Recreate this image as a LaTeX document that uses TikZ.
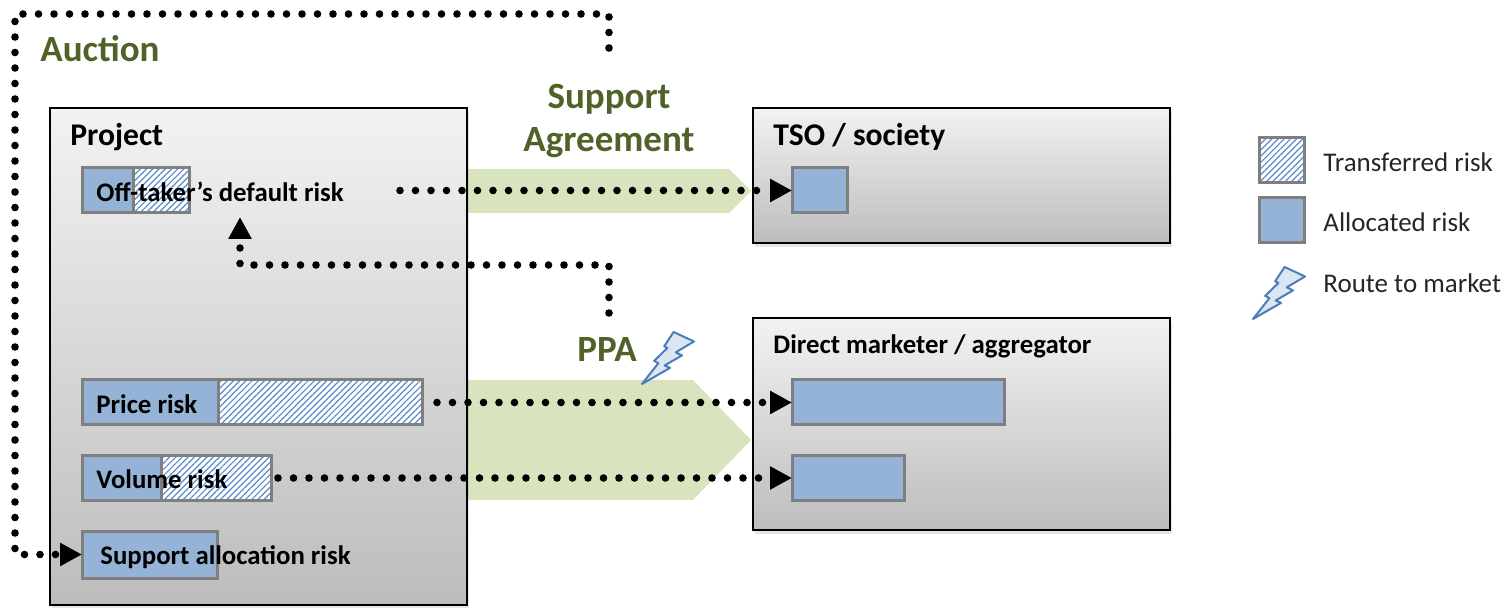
\documentclass[tikz,border=0pt]{standalone}
\usepackage{fontspec}
\setmainfont{Carlito}
\usetikzlibrary{arrows.meta,shadows,patterns.meta}

\definecolor{riskblue}{HTML}{95B3D7}
\definecolor{hatchblue}{HTML}{5B8BC9}
\definecolor{blockgray}{HTML}{7F7F7F}
\definecolor{agreegreen}{HTML}{D7E4BD}
\definecolor{labelgreen}{HTML}{4F6228}
\definecolor{boltfill}{HTML}{DCE6F2}
\definecolor{boltline}{HTML}{4A7EBB}
\definecolor{legendtext}{HTML}{262626}

\tikzset{
	party/.style={draw=black, line width=1.2pt, top color=gray!10, bottom color=gray!52, anchor=north west, inner sep=0pt, outer sep=0pt, drop shadow={shadow xshift=1pt, shadow yshift=-2pt, opacity=0.2}},
	alloc/.style={draw=blockgray, line width=1.5pt, fill=riskblue, anchor=north west, inner sep=0pt, outer sep=0pt},
	transf/.style={draw=blockgray, line width=1.5pt, preaction={fill=white}, pattern={Lines[angle=45, distance=2.2pt, line width=0.6pt]}, pattern color=hatchblue, anchor=north west, inner sep=0pt, outer sep=0pt},
	dotline/.style={line width=3.8pt, line cap=round, dash pattern=on 0pt off 7.75pt, -{Triangle[length=11pt, width=11pt]}},
	partylabel/.style={font=\fontsize{15.8}{18}\selectfont\bfseries, anchor=west, inner sep=0pt},
	risklabel/.style={font=\fontsize{13.4}{16}\selectfont\bfseries, anchor=west, inner sep=0pt},
	agreelabel/.style={font=\fontsize{18.5}{21.5}\selectfont\bfseries, text=labelgreen, inner sep=0pt},
	legendlabel/.style={font=\fontsize{13.5}{16}\selectfont, text=legendtext, anchor=west, inner sep=0pt},
	rtmbolt/.pic={
		\draw[boltline, fill=boltfill, line width=1pt, line join=round] (31.6,0) -- (52,9.5) -- (33.8,20.3) -- (40,23.4) -- (22.6,33.5) -- (28,35.9) -- (0,52) -- (16.4,31.1) -- (12.1,28.9) -- (25.4,16) -- (22.2,14.2) -- cycle;
	}
}

\begin{document}
\begin{tikzpicture}[x=0.5pt, y=-0.5pt]
	\useasboundingbox (0,0) rectangle (1508,608);
	
	\fill[agreegreen] (467,169) -- (729,169) -- (751,191) -- (729,213) -- (467,213) -- cycle;
	\fill[agreegreen] (467,380) -- (693,380) -- (751,440) -- (693,500) -- (467,500) -- cycle;
	
	\node[party, minimum width=208.5pt, minimum height=248.5pt] (project) at (50,108) {};
	\node[party, minimum width=208.5pt, minimum height=67.5pt] (tso) at (753,108) {};
	\node[party, minimum width=208.5pt, minimum height=106pt] (dm) at (753,318) {};
	
	\node[alloc, minimum width=25.5pt, minimum height=22.5pt] (ofa) at (82,168) {};
	\node[transf, minimum width=28pt, minimum height=22.5pt] (oft) at (133,168) {};
	\node[alloc, minimum width=68pt, minimum height=22.5pt] (pricea) at (82,380) {};
	\node[transf, minimum width=102pt, minimum height=22.5pt] (pricet) at (218,380) {};
	\node[alloc, minimum width=39.5pt, minimum height=22pt] (vola) at (82,456) {};
	\node[transf, minimum width=55pt, minimum height=22pt] (volt) at (161,456) {};
	\node[alloc, minimum width=67.5pt, minimum height=23.5pt] (supa) at (82,531) {};
	
	\node[alloc, minimum width=27.5pt, minimum height=22.5pt] (tsoa) at (792,168) {};
	\node[alloc, minimum width=106pt, minimum height=22.5pt] (dmprice) at (792,380) {};
	\node[alloc, minimum width=56pt, minimum height=22pt] (dmvol) at (792,456) {};
	
	\node[partylabel] (projectlbl) at (70,137) {Project};
	\node[partylabel] (tsolbl) at (773,137) {TSO / society};
	\node[risklabel] (dmlbl) at (773,346) {Direct marketer / aggregator};
	\node[risklabel] (oflbl) at (96,192) {Off-taker’s default risk};
	\node[risklabel] (pricelbl) at (96,404) {Price risk};
	\node[risklabel] (vollbl) at (96,479) {Volume risk};
	\node[risklabel] (suplbl) at (100,557) {Support allocation risk};
	
	\node[agreelabel, anchor=west] (auctionlbl) at (40,49) {Auction};
	\node[agreelabel, align=center] (salbl) at (609,121) {Support\\Agreement};
	\node[agreelabel] (ppalbl) at (607,350) {PPA};
	\pic at (642,332) {rtmbolt};
	
	\coordinate (ofsrc) at (400,190.5);
	\coordinate (pricesrc) at (437,402.5);
	\coordinate (volsrc) at (278,478);
	\coordinate (aucsrc) at (609,48);
	\coordinate (auccorner) at (15,14);
	\coordinate (ppasrc) at (609,313);
	\coordinate (ppaturn) at (240,265);
	\coordinate (ofup) at (240,217);
	
	\draw[dotline] (ofsrc) -- (tsoa.west);
	\draw[dotline] (pricesrc) -- (dmprice.west);
	\draw[dotline] (volsrc) -- (dmvol.west);
	\draw[dotline] (aucsrc) |- (auccorner) |- (supa.west);
	\draw[dotline] (ppasrc) |- (ppaturn) -- (ofup);
	
	\node[transf, minimum width=22.5pt, minimum height=22.5pt] (legt) at (1259,138) {};
	\node[alloc, minimum width=22.5pt, minimum height=22.5pt] (lega) at (1259,198) {};
	\pic at (1253,267) {rtmbolt};
	\node[legendlabel] (legtlbl) at (1323,162) {Transferred risk};
	\node[legendlabel] (legalbl) at (1323,222) {Allocated risk};
	\node[legendlabel] (legblbl) at (1323,283) {Route to market};
\end{tikzpicture}
\end{document}
